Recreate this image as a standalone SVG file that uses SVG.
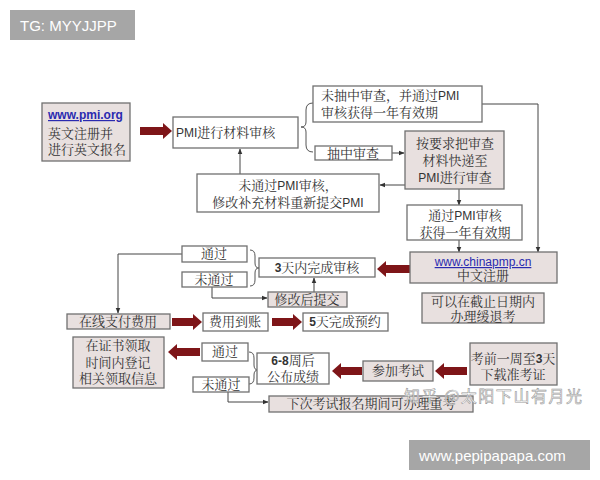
<svg xmlns="http://www.w3.org/2000/svg" width="600" height="480" viewBox="0 0 600 480">
<defs>
<style>
.b{fill:#fff;stroke:#707070;stroke-width:1.3}
.g{fill:#e8e0df;stroke:#707070;stroke-width:1.3}
.t{font-family:"Liberation Serif","Noto Serif CJK SC","Noto Sans CJK SC",serif;font-size:13px;fill:#333}
.s{font-family:"Liberation Sans","DejaVu Sans",sans-serif;font-size:12px}
.c{text-anchor:middle}
.u{font-family:"Liberation Sans","DejaVu Sans",sans-serif;font-size:12px;fill:#2a2ab0;text-decoration:underline}
.ln{fill:none;stroke:#444;stroke-width:1}
.br{fill:none;stroke:#555;stroke-width:1}
.ra{fill:#7e1518}
.lbl{fill:#a6a6a6}
.lt{font-family:"Liberation Sans","DejaVu Sans",sans-serif;font-size:15px;fill:#fff}
.wm{font-family:"Noto Sans CJK SC",sans-serif;font-size:16px;fill:#fff;stroke:#999;stroke-width:0.6}
</style>
<marker id="ah" viewBox="0 0 10 10" refX="9" refY="5" markerWidth="6" markerHeight="6" orient="auto">
<path d="M0,1 L10,5 L0,9 z" fill="#333"/>
</marker>
</defs>
<rect width="600" height="480" fill="#fff"/>

<g id="label-tg"><rect class="lbl" x="10" y="10" width="125" height="30"/><text class="lt" x="20" y="31">TG: MYYJJPP</text></g>
<g id="label-site"><rect class="lbl" x="409" y="440" width="181" height="30"/><text class="lt" x="419" y="461">www.pepipapapa.com</text></g>

<g id="connectors">
<path class="ln" d="M392,153 L404,153" marker-end="url(#ah)"/>
<path class="ln" d="M405,185 L380,185" marker-end="url(#ah)"/>
<path class="ln" d="M240,174 L240,149" marker-end="url(#ah)"/>
<path class="ln" d="M459,189 L459,205" marker-end="url(#ah)"/>
<path class="ln" d="M459,240 L459,252" marker-end="url(#ah)"/>
<path class="ln" d="M482,104 L538,104 L538,252" marker-end="url(#ah)"/>
<path class="ln" d="M182,254 L118,254 L118,313" marker-end="url(#ah)"/>
<path class="ln" d="M212,287 L212,298 L267,298" marker-end="url(#ah)"/>
<path class="ln" d="M314,292 L314,278" marker-end="url(#ah)"/>
<path class="ln" d="M228,392 L228,402 L268,402" marker-end="url(#ah)"/>
<path class="br" d="M313,103 Q306,103 306,110 L306,122 Q306,127 301,127 Q306,127 306,132 L306,145 Q306,152 313,152"/>
<path class="br" d="M250,250 Q255,250 255,256 L255,263 Q255,268 259,268 Q255,268 255,273 L255,280 Q255,286 250,286"/>
<path class="br" d="M249,352 Q254,352 254,358 L254,365 Q254,370 258,370 Q254,370 254,375 L254,378 Q254,384 249,384"/>
<polygon class="ra" points="140,127 163,127 163,123 172,131 163,139 163,135 140,135"/>
<polygon class="ra" points="410,265 386,265 386,261 377,269 386,277 386,273 410,273"/>
<polygon class="ra" points="172,318 193,318 193,314 202,322 193,330 193,326 172,326"/>
<polygon class="ra" points="272,318 293,318 293,314 302,322 293,330 293,326 272,326"/>
<polygon class="ra" points="200,348 177,348 177,344 168,352 177,360 177,356 200,356"/>
<polygon class="ra" points="362,367 341,367 341,363 332,371 341,379 341,375 362,375"/>
<polygon class="ra" points="467,367 444,367 444,363 435,371 444,379 444,375 467,375"/>
</g>

<g id="n-pmiorg"><rect class="g" x="42" y="103" width="88" height="58"/><text class="u" x="48" y="119" font-weight="bold">www.pmi.org</text><text class="t" x="48" y="138">英文注册并</text><text class="t" x="48" y="154">进行英文报名</text></g>
<g id="n-review"><rect class="b" x="173" y="117" width="125" height="31"/><text class="t" x="176" y="137"><tspan class="s">PMI</tspan>进行材料审核</text></g>
<g id="n-notaudit"><rect class="b" x="313" y="86" width="169" height="36"/><text class="t" x="321" y="100">未抽中审查，并通过<tspan class="s">PMI</tspan></text><text class="t" x="321" y="117">审核获得一年有效期</text></g>
<g id="n-audit"><rect class="b" x="315" y="146" width="77" height="14"/><text class="t c" x="353" y="158">抽中审查</text></g>
<g id="n-send"><rect class="g" x="405" y="131" width="99" height="58"/><text class="t c" x="455" y="148">按要求把审查</text><text class="t c" x="455" y="165">材料快递至</text><text class="t c" x="455" y="182"><tspan class="s">PMI</tspan>进行审查</text></g>
<g id="n-fail"><rect class="b" x="197" y="174" width="182" height="38"/><text class="t c" x="288" y="190">未通过<tspan class="s">PMI</tspan>审核，</text><text class="t c" x="288" y="207">修改补充材料重新提交<tspan class="s">PMI</tspan></text></g>
<g id="n-pass"><rect class="b" x="407" y="205" width="115" height="35"/><text class="t c" x="465" y="220">通过<tspan class="s">PMI</tspan>审核</text><text class="t c" x="465" y="237">获得一年有效期</text></g>
<g id="n-chinapmp"><rect class="g" x="410" y="252" width="147" height="31"/><text class="u c" x="483" y="266">www.chinapmp.cn</text><text class="t c" x="483" y="280">中文注册</text></g>
<g id="n-defer"><rect class="g" x="422" y="293" width="122" height="30"/><text class="t c" x="483" y="306">可以在截止日期内</text><text class="t c" x="483" y="321">办理缓退考</text></g>
<g id="n-3days"><rect class="b" x="259" y="258" width="116" height="19"/><text class="t c" x="317" y="272"><tspan class="s" font-weight="bold">3</tspan>天内完成审核</text></g>
<g id="n-ok1"><rect class="b" x="182" y="246" width="65" height="16"/><text class="t c" x="214" y="258">通过</text></g>
<g id="n-no1"><rect class="b" x="182" y="272" width="65" height="15"/><text class="t c" x="214" y="284">未通过</text></g>
<g id="n-resubmit"><rect class="g" x="268" y="292" width="79" height="15"/><text class="t c" x="307" y="304">修改后提交</text></g>
<g id="n-paying"><rect class="g" x="67" y="314" width="103" height="15"/><text class="t c" x="118" y="326">在线支付费用</text></g>
<g id="n-paid"><rect class="b" x="203" y="313" width="65" height="18"/><text class="t c" x="235" y="326">费用到账</text></g>
<g id="n-5days"><rect class="b" x="303" y="313" width="85" height="18"/><text class="t c" x="345" y="326"><tspan class="s" font-weight="bold">5</tspan>天完成预约</text></g>
<g id="n-cert"><rect class="g" x="73" y="337" width="91" height="51"/><text class="t c" x="118" y="350">在证书领取</text><text class="t c" x="118" y="367">时间内登记</text><text class="t c" x="118" y="383">相关领取信息</text></g>
<g id="n-ok2"><rect class="b" x="202" y="343" width="46" height="18"/><text class="t c" x="225" y="356">通过</text></g>
<g id="n-no2"><rect class="b" x="193" y="377" width="56" height="15"/><text class="t c" x="221" y="389">未通过</text></g>
<g id="n-score"><rect class="b" x="257" y="353" width="72" height="31"/><text class="t c" x="293" y="365"><tspan class="s" font-weight="bold">6-8</tspan>周后</text><text class="t c" x="293" y="381">公布成绩</text></g>
<g id="n-retake"><rect class="g" x="269" y="396" width="204" height="16"/><text class="t c" x="371" y="408">下次考试报名期间可办理重考</text></g>
<g id="n-exam"><rect class="g" x="363" y="361" width="70" height="20"/><text class="t c" x="398" y="375">参加考试</text></g>
<g id="n-ticket"><rect class="g" x="470" y="343" width="87" height="42"/><text class="t c" x="513" y="363">考前一周至<tspan class="s" font-weight="bold">3</tspan>天</text><text class="t c" x="513" y="379">下载准考证</text></g>

<text class="wm" x="404" y="402" textLength="178">知乎 @太阳下山有月光</text>
</svg>
